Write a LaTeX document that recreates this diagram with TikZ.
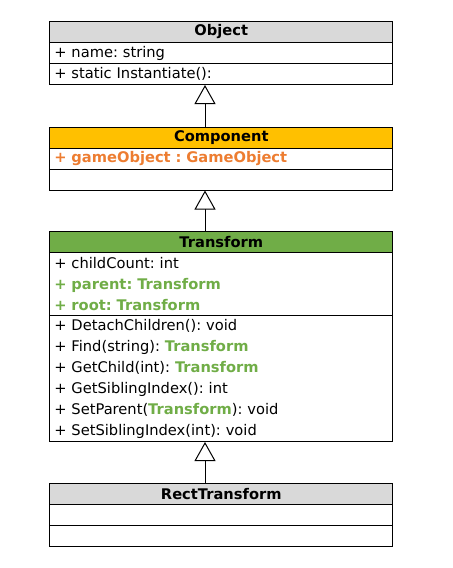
\documentclass[tikz,border=0pt]{standalone}
\usepackage{fontspec}
\setmainfont{DejaVu Sans}
\usetikzlibrary{arrows.meta}
\definecolor{hdrgray}{HTML}{D9D9D9}
\definecolor{hdrorange}{HTML}{FFC000}
\definecolor{hdrgreen}{HTML}{70AD47}
\definecolor{txtorange}{HTML}{ED7D31}
\definecolor{txtgreen}{HTML}{70AD47}
\newcommand{\gr}[1]{\textbf{\textcolor{txtgreen}{#1}}}
\frenchspacing
\begin{document}
\begin{tikzpicture}[x=0.75pt,y=-0.75pt,
  font=\fontsize{11pt}{15.75pt}\selectfont,
  hdr/.style={draw=black,line width=0.75pt,anchor=north west,minimum width=343*0.75pt,minimum height=21*0.75pt,inner sep=0pt,font=\fontsize{11pt}{15.75pt}\selectfont\bfseries},
  cpt/.style={draw=black,line width=0.75pt,anchor=north west,minimum width=343*0.75pt,inner sep=0pt,text width=334*0.75pt,align=left},
  inherit/.style={line width=0.75pt,-{Triangle[open,width=21*0.75pt,length=19*0.75pt,fill=white]}}]
\useasboundingbox (0,0) rectangle (453,568);
% Object
\node[hdr,fill=hdrgray] (objh) at (49.3,21) {Object};
\node[cpt,minimum height=21*0.75pt] (obja) at (49.3,42) {+ name: string};
\node[cpt,minimum height=21*0.75pt] (objm) at (49.3,63) {+ static Instantiate():};
% Component
\node[hdr,fill=hdrorange] (comh) at (49.3,126.5) {Component};
\node[cpt,minimum height=21*0.75pt] (coma) at (49.3,147.5) {\textbf{\textcolor{txtorange}{+ gameObject : GameObject}}};
\node[cpt,minimum height=21*0.75pt] (comm) at (49.3,168.5) {};
% Transform
\node[hdr,fill=hdrgreen] (trh) at (49.3,231) {Transform};
\node[cpt,minimum height=63*0.75pt] (tra) at (49.3,252) {+ childCount: int\\ \gr{+ parent: Transform}\\ \gr{+ root: Transform}};
\node[cpt,minimum height=126*0.75pt] (trm) at (49.3,315) {+ DetachChildren(): void\\ + Find(string): \gr{Transform}\\ + GetChild(int): \gr{Transform}\\ + GetSiblingIndex(): int\\ + SetParent(\gr{Transform}): void\\ + SetSiblingIndex(int): void};
% RectTransform
\node[hdr,fill=hdrgray] (rth) at (49.3,483.3) {RectTransform};
\node[cpt,minimum height=21*0.75pt] (rta) at (49.3,504.3) {};
\node[cpt,minimum height=21*0.75pt] (rtm) at (49.3,525.3) {};
% inheritance
\draw[inherit] (comh.north -| 205,0) -- (objm.south -| 205,0);
\draw[inherit] (trh.north -| 205,0) -- (comm.south -| 205,0);
\draw[inherit] (rth.north -| 205,0) -- (trm.south -| 205,0);
\end{tikzpicture}
\end{document}
